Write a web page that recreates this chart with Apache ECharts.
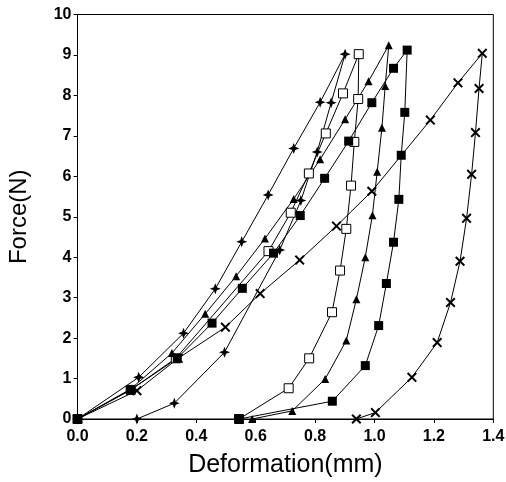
<!DOCTYPE html>
<html>
<head>
<meta charset="utf-8">
<script src="https://cdn.jsdelivr.net/npm/echarts@6/dist/echarts.min.js"></script>
<style>
html,body{margin:0;padding:0;background:#fff;}
#chart{width:506px;height:482px;}
</style>
</head>
<body>
<div id="chart"></div>
<script>
// Star/plus-marker series
const plusX = [0, 0.206, 0.357, 0.464, 0.553, 0.642, 0.728, 0.817, 0.901, 0.854, 0.807, 0.752, 0.681, 0.495, 0.326, 0.2];
const plusY = [0, 1.03, 2.12, 3.22, 4.38, 5.54, 6.69, 7.83, 9.02, 7.82, 6.6, 5.4, 4.18, 1.65, 0.39, 0];
// Open-square series
const openSqX = [0, 0.179, 0.331, 0.643, 0.718, 0.779, 0.836, 0.894, 0.947, 0.945, 0.932, 0.921, 0.905, 0.884, 0.857, 0.78, 0.711, 0.544];
const openSqY = [0, 0.72, 1.5, 4.15, 5.1, 6.07, 7.06, 8.05, 9.02, 7.91, 6.85, 5.77, 4.7, 3.67, 2.64, 1.5, 0.76, 0];
// Filled-triangle series
const triX = [0, 0.179, 0.318, 0.43, 0.534, 0.631, 0.728, 0.817, 0.901, 0.98, 1.048, 1.036, 1.025, 1.009, 0.993, 0.969, 0.939, 0.905, 0.834, 0.723, 0.588];
const triY = [0, 0.74, 1.63, 2.6, 3.53, 4.46, 5.44, 6.42, 7.41, 8.35, 9.24, 8.23, 7.2, 6.11, 5.04, 4.0, 2.96, 1.94, 0.99, 0.2, 0];
// Filled-square series
const fillSqX = [0, 0.179, 0.336, 0.453, 0.555, 0.66, 0.75, 0.832, 0.913, 0.991, 1.064, 1.11, 1.102, 1.09, 1.082, 1.064, 1.04, 1.014, 0.969, 0.858, 0.544];
const fillSqY = [0, 0.72, 1.5, 2.37, 3.23, 4.1, 5.03, 5.95, 6.87, 7.82, 8.67, 9.12, 7.58, 6.52, 5.43, 4.37, 3.35, 2.31, 1.32, 0.44, 0];
// Cross-marker series
const crossX = [0, 0.2, 0.339, 0.498, 0.615, 0.748, 0.872, 0.991, 1.188, 1.281, 1.363, 1.352, 1.34, 1.327, 1.31, 1.288, 1.256, 1.211, 1.126, 1.003, 0.939];
const crossY = [0, 0.7, 1.5, 2.27, 3.1, 3.93, 4.77, 5.63, 7.39, 8.31, 9.04, 8.17, 7.08, 6.05, 4.96, 3.9, 2.88, 1.89, 1.03, 0.16, 0];

const xTitle = 'Deformation(mm)';
const yTitle = 'Force(N)';

function zip(xs, ys) { return xs.map((x, i) => [x, ys[i]]); }

const STAR = 'path://M0,-5 L1.4,-1.4 L5,0 L1.4,1.4 L0,5 L-1.4,1.4 L-5,0 L-1.4,-1.4 Z';
const CROSS = 'path://M-5,-3.6 L-3.6,-5 L0,-1.4 L3.6,-5 L5,-3.6 L1.4,0 L5,3.6 L3.6,5 L0,1.4 L-3.6,5 L-5,3.6 L-1.4,0 Z';

function mk(name, xs, ys, symbol, size, itemStyle) {
  return {
    name: name, type: 'line', data: zip(xs, ys),
    symbol: symbol, symbolSize: size, showSymbol: true,
    lineStyle: { color: '#000', width: 1 },
    itemStyle: itemStyle,
    animation: false, silent: true
  };
}

const labelFont = { fontFamily: 'Liberation Sans', fontWeight: 'bold', fontSize: 16, color: '#000' };
const titleFont = { fontFamily: 'Liberation Sans', fontWeight: 'normal', fontSize: 24, color: '#000' };

const chart = echarts.init(document.getElementById('chart'), null, { renderer: 'canvas' });
chart.setOption({
  backgroundColor: '#fff',
  animation: false,
  grid: { left: 77.5, right: 12.7, top: 14.5, bottom: 63, show: true, borderColor: '#000', borderWidth: 1, outerBoundsMode: 'none' },
  xAxis: {
    type: 'value', min: 0, max: 1.4, interval: 0.2,
    name: xTitle, nameLocation: 'middle', nameGap: 34, nameTextStyle: Object.assign({}, titleFont, { fontSize: 25 }),
    axisLine: { show: true, lineStyle: { color: '#000', width: 1 } },
    axisTick: { show: true, inside: false, length: 4, lineStyle: { color: '#000' } },
    splitLine: { show: false },
    axisLabel: Object.assign({ margin: 10, formatter: v => v.toFixed(1) }, labelFont)
  },
  yAxis: {
    type: 'value', min: 0, max: 10, interval: 1,
    name: yTitle, nameLocation: 'middle', nameGap: 46, nameTextStyle: titleFont,
    axisLine: { show: true, lineStyle: { color: '#000', width: 1 } },
    axisTick: { show: true, inside: false, length: 4, lineStyle: { color: '#000' } },
    splitLine: { show: false },
    axisLabel: Object.assign({ margin: 6 }, labelFont)
  },
  series: [
    mk('plus', plusX, plusY, STAR, 11, { color: '#000' }),
    mk('openSquare', openSqX, openSqY, 'rect', 9, { color: '#fff', borderColor: '#000', borderWidth: 1 }),
    mk('triangle', triX, triY, 'triangle', 8, { color: '#000' }),
    mk('filledSquare', fillSqX, fillSqY, 'rect', 9, { color: '#000' }),
    mk('cross', crossX, crossY, CROSS, 10, { color: '#000' })
  ]
});
</script>
</body>
</html>
